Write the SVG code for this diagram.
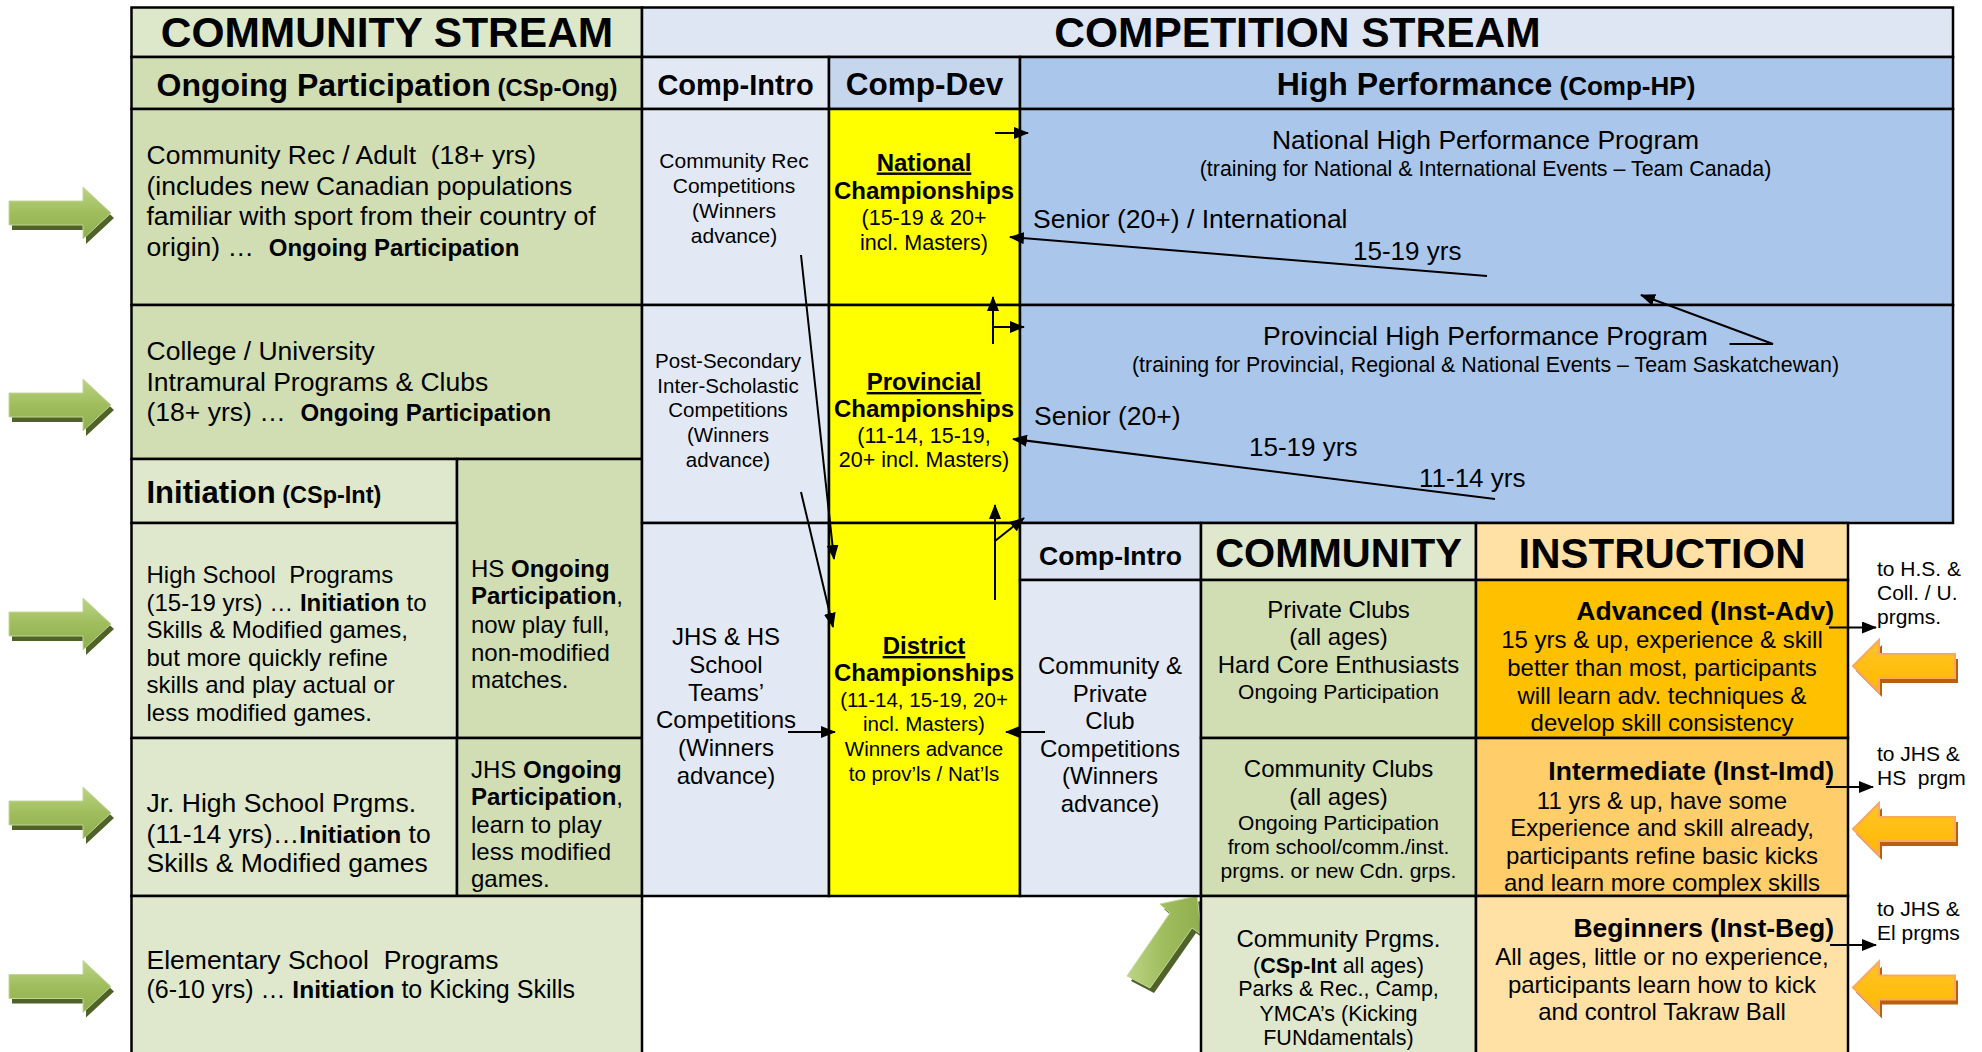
<svg xmlns="http://www.w3.org/2000/svg" width="1982" height="1052" viewBox="0 0 1982 1052">
<defs>
<style>
.t{font-family:"Liberation Sans",Arial,sans-serif;fill:#000;white-space:pre}
.b{font-weight:bold}
.m{text-anchor:middle}
.e{text-anchor:end}
.u{text-decoration:underline}
.cell{stroke:#000;stroke-width:2.5}
.gl{fill:#d1ddb2}.gx{fill:#dfe8cc}.gh{fill:#dde8cb}
.bl{fill:#e3e9f4}.bh{fill:#dde6f2}.bd{fill:#c6d6ec}.hp{fill:#aac7eb}
.yl{fill:#ffff00}.ih{fill:#ffe1a6}.ia{fill:#ffc000}.im{fill:#ffcd69}
.con{stroke:#000;stroke-width:2;fill:none;marker-end:url(#ah)}
.s21{font-size:21px}.s24{font-size:24px}.s26{font-size:26.5px}
</style>
<marker id="ah" markerWidth="15" markerHeight="12" refX="14" refY="6" orient="auto" markerUnits="userSpaceOnUse"><path d="M0,0 L15,6 L0,12 z" fill="#000"/></marker>
<linearGradient id="gg" x1="0" y1="0" x2="0" y2="1"><stop offset="0" stop-color="#bcd486"/><stop offset="0.5" stop-color="#9fbd5c"/><stop offset="1" stop-color="#8fae4d"/></linearGradient>
<linearGradient id="gd" x1="0" y1="0" x2="1" y2="0"><stop offset="0" stop-color="#bcd486"/><stop offset="0.5" stop-color="#9fbd5c"/><stop offset="1" stop-color="#8fae4d"/></linearGradient>
<linearGradient id="og" x1="0" y1="0" x2="0" y2="1"><stop offset="0" stop-color="#ffc526"/><stop offset="1" stop-color="#ffb800"/></linearGradient>
<polygon id="garrow" points="9,-12 83,-12 83,-26 111,0 83,26 83,12 9,12"/>
<polygon id="oarrow" points="1853,0 1879,-26 1879,-12 1955,-12 1955,12 1879,12 1879,26"/>
</defs>
<rect width="1982" height="1052" fill="#fff"/>

<g id="block-arrows">
<g transform="translate(0,213)"><use href="#garrow" fill="#4f6228" transform="translate(3,5)"/><use href="#garrow" fill="url(#gg)" stroke="#c3d69b" stroke-width="1"/></g>
<g transform="translate(0,405)"><use href="#garrow" fill="#4f6228" transform="translate(3,5)"/><use href="#garrow" fill="url(#gg)" stroke="#c3d69b" stroke-width="1"/></g>
<g transform="translate(0,624)"><use href="#garrow" fill="#4f6228" transform="translate(3,5)"/><use href="#garrow" fill="url(#gg)" stroke="#c3d69b" stroke-width="1"/></g>
<g transform="translate(0,813)"><use href="#garrow" fill="#4f6228" transform="translate(3,5)"/><use href="#garrow" fill="url(#gg)" stroke="#c3d69b" stroke-width="1"/></g>
<g transform="translate(0,986.5)"><use href="#garrow" fill="#4f6228" transform="translate(3,5)"/><use href="#garrow" fill="url(#gg)" stroke="#c3d69b" stroke-width="1"/></g>
<polygon points="1197,896 1160,904 1170,913 1127,976 1150,988 1192,928 1202,935" fill="#4f6228" transform="translate(4,5)"/>
<polygon points="1197,896 1160,904 1170,913 1127,976 1150,988 1192,928 1202,935" fill="url(#gd)" stroke="#c3d69b" stroke-width="1"/>
<g transform="translate(0,666)"><use href="#oarrow" fill="#b8600f" transform="translate(3,5)"/><use href="#oarrow" fill="url(#og)" stroke="#f9a860" stroke-width="2"/></g>
<g transform="translate(0,829)"><use href="#oarrow" fill="#b8600f" transform="translate(3,5)"/><use href="#oarrow" fill="url(#og)" stroke="#f9a860" stroke-width="2"/></g>
<g transform="translate(0,987.5)"><use href="#oarrow" fill="#b8600f" transform="translate(3,5)"/><use href="#oarrow" fill="url(#og)" stroke="#f9a860" stroke-width="2"/></g>
</g>

<g id="hdr-community"><rect class="cell gh" x="131.5" y="7.5" width="510.5" height="49.5"/><text class="t b m" x="387" y="47" font-size="42.5">COMMUNITY STREAM</text></g>
<g id="hdr-competition"><rect class="cell bh" x="642" y="7.5" width="1311" height="49.5"/><text class="t b m" x="1297.5" y="47" font-size="42.5">COMPETITION STREAM</text></g>
<g id="hdr-ongoing"><rect class="cell gl" x="131.5" y="57" width="510.5" height="52"/><text class="t b m" x="387" y="96"><tspan font-size="32">Ongoing Participation</tspan><tspan font-size="24"> (CSp-Ong)</tspan></text></g>
<g id="hdr-comp-intro"><rect class="cell bl" x="642" y="57" width="187" height="52"/><text class="t b m" x="735.5" y="95" font-size="29">Comp-Intro</text></g>
<g id="hdr-comp-dev"><rect class="cell bd" x="829" y="57" width="191" height="52"/><text class="t b m" x="924.5" y="95" font-size="31.5">Comp-Dev</text></g>
<g id="hdr-hp"><rect class="cell hp" x="1020" y="57" width="933" height="52"/><text class="t b m" x="1486" y="95"><tspan font-size="32">High Performance</tspan><tspan font-size="26"> (Comp-HP)</tspan></text></g>

<g id="comm-rec"><rect class="cell gl" x="131.5" y="109" width="510.5" height="196"/>
<text class="t s26" x="146.5" y="164">Community Rec / Adult  (18+ yrs)</text>
<text class="t s26" x="146.5" y="194.5">(includes new Canadian populations</text>
<text class="t s26" x="146.5" y="225">familiar with sport from their country of</text>
<text class="t s26" x="146.5" y="255.5">origin) …  <tspan class="b" font-size="24">Ongoing Participation</tspan></text></g>
<g id="college"><rect class="cell gl" x="131.5" y="305" width="510.5" height="154"/>
<text class="t s26" x="146.5" y="360">College / University</text>
<text class="t s26" x="146.5" y="390.5">Intramural Programs &amp; Clubs</text>
<text class="t s26" x="146.5" y="421">(18+ yrs) …  <tspan class="b" font-size="24">Ongoing Participation</tspan></text></g>
<g id="hdr-initiation"><rect class="cell gx" x="131.5" y="459" width="325.5" height="64"/><text class="t b" x="146.5" y="503"><tspan font-size="31">Initiation</tspan><tspan font-size="23.5"> (CSp-Int)</tspan></text></g>
<g id="hs-ongoing"><rect class="cell gl" x="457" y="459" width="185" height="279"/>
<text class="t s24" x="471" y="577">HS <tspan class="b">Ongoing</tspan></text>
<text class="t s24" x="471" y="604"><tspan class="b">Participation</tspan>,</text>
<text class="t s24" x="471" y="632.5">now play full,</text>
<text class="t s24" x="471" y="660.5">non-modified</text>
<text class="t s24" x="471" y="688">matches.</text></g>
<g id="hs-programs"><rect class="cell gx" x="131.5" y="523" width="325.5" height="215"/>
<text class="t s24" x="146.5" y="583">High School  Programs</text>
<text class="t s24" x="146.5" y="610.5">(15-19 yrs) … <tspan class="b">Initiation</tspan> to</text>
<text class="t s24" x="146.5" y="638">Skills &amp; Modified games,</text>
<text class="t s24" x="146.5" y="665.5">but more quickly refine</text>
<text class="t s24" x="146.5" y="693">skills and play actual or</text>
<text class="t s24" x="146.5" y="720.5">less modified games.</text></g>
<g id="jhs-programs"><rect class="cell gx" x="131.5" y="738" width="325.5" height="158"/>
<text class="t s26" x="146.5" y="811.5">Jr. High School Prgms.</text>
<text class="t s26" x="146.5" y="843">(11-14 yrs)…<tspan class="b" font-size="24.5">Initiation</tspan> to</text>
<text class="t s26" x="146.5" y="872">Skills &amp; Modified games</text></g>
<g id="jhs-ongoing"><rect class="cell gl" x="457" y="738" width="185" height="158"/>
<text class="t s24" x="471" y="778">JHS <tspan class="b">Ongoing</tspan></text>
<text class="t s24" x="471" y="805"><tspan class="b">Participation</tspan>,</text>
<text class="t s24" x="471" y="833">learn to play</text>
<text class="t s24" x="471" y="860">less modified</text>
<text class="t s24" x="471" y="886.5">games.</text></g>
<g id="elementary"><rect class="cell gx" x="131.5" y="896" width="510.5" height="170"/>
<text class="t s26" x="146.5" y="969">Elementary School  Programs</text>
<text class="t" font-size="25" x="146.5" y="998">(6-10 yrs) … <tspan class="b" font-size="24.5">Initiation</tspan> to Kicking Skills</text></g>

<g id="ci-community-rec"><rect class="cell bl" x="642" y="109" width="187" height="196"/>
<text class="t s21 m" x="734" y="168">Community Rec</text>
<text class="t s21 m" x="734" y="193">Competitions</text>
<text class="t s21 m" x="734" y="218">(Winners</text>
<text class="t s21 m" x="734" y="243">advance)</text></g>
<g id="ci-post-secondary"><rect class="cell bl" x="642" y="305" width="187" height="218"/>
<text class="t m" font-size="20.5" x="728" y="368">Post-Secondary</text>
<text class="t m" font-size="20.5" x="728" y="392.5">Inter-Scholastic</text>
<text class="t m" font-size="20.5" x="728" y="417">Competitions</text>
<text class="t m" font-size="20.5" x="728" y="441.5">(Winners</text>
<text class="t m" font-size="20.5" x="728" y="466.5">advance)</text></g>
<g id="ci-school-teams"><rect class="cell bl" x="642" y="523" width="187" height="373"/>
<text class="t s24 m" x="726" y="645">JHS &amp; HS</text>
<text class="t s24 m" x="726" y="672.5">School</text>
<text class="t s24 m" x="726" y="700.5">Teams’</text>
<text class="t s24 m" x="726" y="728">Competitions</text>
<text class="t s24 m" x="726" y="755.5">(Winners</text>
<text class="t s24 m" x="726" y="783.5">advance)</text></g>

<g id="national-champ"><rect class="cell yl" x="829" y="109" width="191" height="196"/>
<text class="t b u s24 m" x="924" y="170.5">National</text>
<text class="t b s24 m" x="924" y="199">Championships</text>
<text class="t m" font-size="21.5" x="924" y="225">(15-19 &amp; 20+</text>
<text class="t m" font-size="21.5" x="924" y="250">incl. Masters)</text></g>
<g id="provincial-champ"><rect class="cell yl" x="829" y="305" width="191" height="218"/>
<text class="t b u s24 m" x="924" y="390">Provincial</text>
<text class="t b s24 m" x="924" y="416.5">Championships</text>
<text class="t m" font-size="21.5" x="924" y="442.5">(11-14, 15-19,</text>
<text class="t m" font-size="21.5" x="924" y="466.5">20+ incl. Masters)</text></g>
<g id="district-champ"><rect class="cell yl" x="829" y="523" width="191" height="373"/>
<text class="t b u s24 m" x="924" y="654">District</text>
<text class="t b s24 m" x="924" y="681">Championships</text>
<text class="t m" font-size="20.5" x="924" y="707">(11-14, 15-19, 20+</text>
<text class="t m" font-size="20.5" x="924" y="730.5">incl. Masters)</text>
<text class="t m" font-size="20.5" x="924" y="756">Winners advance</text>
<text class="t m" font-size="20.5" x="924" y="781">to prov’ls / Nat’ls</text></g>

<g id="national-hp"><rect class="cell hp" x="1020" y="109" width="933" height="196"/>
<text class="t s26 m" x="1485.5" y="148.5">National High Performance Program</text>
<text class="t m" font-size="21.4" x="1485.5" y="176">(training for National &amp; International Events – Team Canada)</text>
<text class="t s26" x="1033" y="228">Senior (20+) / International</text>
<text class="t" font-size="26" x="1353" y="260">15-19 yrs</text></g>
<g id="provincial-hp"><rect class="cell hp" x="1020" y="305" width="933" height="218"/>
<text class="t s26 m" x="1485.5" y="345">Provincial High Performance Program</text>
<text class="t m" font-size="21.4" x="1485.5" y="371.5">(training for Provincial, Regional &amp; National Events – Team Saskatchewan)</text>
<text class="t s26" x="1034" y="425">Senior (20+)</text>
<text class="t" font-size="26" x="1249" y="456">15-19 yrs</text>
<text class="t" font-size="26" x="1419" y="487">11-14 yrs</text></g>

<g id="ci2-header"><rect class="cell" fill="#dbe4f0" x="1020" y="523" width="181" height="57"/><text class="t b m s26" x="1110.5" y="564.5">Comp-Intro</text></g>
<g id="ci2-clubs"><rect class="cell bl" x="1020" y="580" width="181" height="316"/>
<text class="t s24 m" x="1110" y="673.5">Community &amp;</text>
<text class="t s24 m" x="1110" y="701.5">Private</text>
<text class="t s24 m" x="1110" y="729">Club</text>
<text class="t s24 m" x="1110" y="756.5">Competitions</text>
<text class="t s24 m" x="1110" y="783.5">(Winners</text>
<text class="t s24 m" x="1110" y="811.5">advance)</text></g>

<g id="community-hdr"><rect class="cell gx" x="1201" y="523" width="275" height="57"/><text class="t b m" font-size="40" x="1338.5" y="567">COMMUNITY</text></g>
<g id="private-clubs"><rect class="cell gl" x="1201" y="580" width="275" height="158"/>
<text class="t s24 m" x="1338.5" y="618">Private Clubs</text>
<text class="t s24 m" x="1338.5" y="645">(all ages)</text>
<text class="t s24 m" x="1338.5" y="673">Hard Core Enthusiasts</text>
<text class="t s21 m" x="1338.5" y="699">Ongoing Participation</text></g>
<g id="community-clubs"><rect class="cell gl" x="1201" y="738" width="275" height="158"/>
<text class="t s24 m" x="1338.5" y="776.5">Community Clubs</text>
<text class="t s24 m" x="1338.5" y="804.5">(all ages)</text>
<text class="t s21 m" x="1338.5" y="830">Ongoing Participation</text>
<text class="t s21 m" x="1338.5" y="854">from school/comm./inst.</text>
<text class="t s21 m" x="1338.5" y="877.5">prgms. or new Cdn. grps.</text></g>
<g id="community-prgms"><rect class="cell gx" x="1201" y="896" width="275" height="170"/>
<text class="t s24 m" x="1338.5" y="946.5">Community Prgms.</text>
<text class="t m" font-size="21.5" x="1338.5" y="973">(<tspan class="b">CSp-Int</tspan> all ages)</text>
<text class="t m" font-size="21.5" x="1338.5" y="996">Parks &amp; Rec., Camp,</text>
<text class="t m" font-size="21.5" x="1338.5" y="1020.5">YMCA’s (Kicking</text>
<text class="t m" font-size="21.5" x="1338.5" y="1045">FUNdamentals)</text></g>

<g id="instruction-hdr"><rect class="cell ih" x="1476" y="523" width="372" height="57"/><text class="t b m" font-size="42" x="1662" y="568">INSTRUCTION</text></g>
<g id="advanced"><rect class="cell ia" x="1476" y="580" width="372" height="158"/>
<text class="t b e s26" x="1834" y="620">Advanced (Inst-Adv)</text>
<text class="t s24 m" x="1662" y="648">15 yrs &amp; up, experience &amp; skill</text>
<text class="t s24 m" x="1662" y="676">better than most, participants</text>
<text class="t s24 m" x="1662" y="703.5">will learn adv. techniques &amp;</text>
<text class="t s24 m" x="1662" y="730.5">develop skill consistency</text></g>
<g id="intermediate"><rect class="cell im" x="1476" y="738" width="372" height="158"/>
<text class="t b e s26" x="1834" y="780">Intermediate (Inst-Imd)</text>
<text class="t s24 m" x="1662" y="808.5">11 yrs &amp; up, have some</text>
<text class="t s24 m" x="1662" y="836">Experience and skill already,</text>
<text class="t s24 m" x="1662" y="863.5">participants refine basic kicks</text>
<text class="t s24 m" x="1662" y="890.5">and learn more complex skills</text></g>
<g id="beginners"><rect class="cell ih" x="1476" y="896" width="372" height="170"/>
<text class="t b e s26" x="1834" y="936.5">Beginners (Inst-Beg)</text>
<text class="t s24 m" x="1662" y="965">All ages, little or no experience,</text>
<text class="t s24 m" x="1662" y="993">participants learn how to kick</text>
<text class="t s24 m" x="1662" y="1019.5">and control Takraw Ball</text></g>

<g id="side-labels">
<text class="t s21" x="1877" y="575.5">to H.S. &amp;</text>
<text class="t s21" x="1877" y="600">Coll. / U.</text>
<text class="t s21" x="1877" y="623.5">prgms.</text>
<text class="t s21" x="1877" y="760.5">to JHS &amp;</text>
<text class="t s21" x="1877" y="785">HS  prgm</text>
<text class="t s21" x="1877" y="915.5">to JHS &amp;</text>
<text class="t s21" x="1877" y="940">El prgms</text>
</g>

<g id="connectors">
<line class="con" x1="1487" y1="276" x2="1010" y2="237"/>
<line class="con" x1="995" y1="133" x2="1028" y2="133"/>
<polyline class="con" points="1729.5,344 1773,344 1641,295"/>
<line class="con" x1="1495" y1="499" x2="1013" y2="439"/>
<line class="con" x1="993" y1="344" x2="993" y2="297"/>
<line class="con" x1="993" y1="327" x2="1024" y2="327"/>
<line class="con" x1="995" y1="600" x2="995" y2="505"/>
<line class="con" x1="995" y1="541" x2="1024" y2="518"/>
<line class="con" x1="801" y1="255" x2="834" y2="559"/>
<line class="con" x1="801" y1="492" x2="833" y2="627"/>
<line class="con" x1="788" y1="732" x2="835" y2="732"/>
<line class="con" x1="1045" y1="732" x2="1006" y2="732"/>
<line class="con" x1="1829" y1="627.5" x2="1876" y2="627.5"/>
<line class="con" x1="1826" y1="787" x2="1873" y2="787"/>
<line class="con" x1="1830" y1="945" x2="1876" y2="945"/>
</g>
</svg>
